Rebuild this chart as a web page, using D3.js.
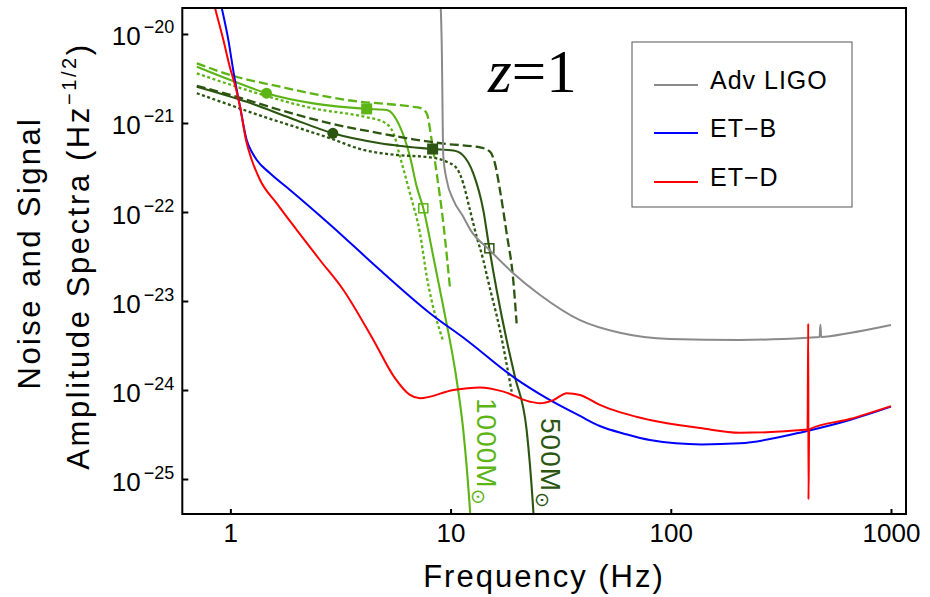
<!DOCTYPE html>
<html>
<head>
<meta charset="utf-8">
<script src="https://cdn.jsdelivr.net/npm/d3@7"></script>
<style>
  body { margin: 0; background: #fff; }
</style>
</head>
<body>
<svg id="chart" width="930" height="597"></svg>
<script>
// ---- Noise amplitude spectra: [frequency (Hz), amplitude (Hz^-1/2)] ----
const advLigo = [
  [9.0, 2.4e-20], [9.11, 8.6e-21], [9.27, 4.2e-22], [9.60, 2.3e-22], [10.3, 1.36e-22],
  [11.4, 8.9e-23], [12.3, 6.3e-23], [15.1, 3.7e-23], [19.2, 2.07e-23], [25.5, 1.17e-23],
  [38.7, 6.1e-24], [58.7, 4.4e-24], [99, 3.75e-24], [206, 3.65e-24], [419, 3.87e-24],
  [474, 3.94e-24], [478, 5.4e-24], [482, 3.95e-24], [650, 4.37e-24], [1000, 5.37e-24]
];
const etB = [
  [0.898, 2.4e-20], [0.914, 1.96e-20], [0.979, 8.6e-21], [1.039, 3.46e-21], [1.107, 1.51e-21],
  [1.187, 6.4e-22], [1.254, 4.7e-22], [1.318, 3.84e-22], [1.514, 2.72e-22], [1.866, 1.77e-22],
  [2.84, 7.2e-23], [4.78, 2.23e-23], [8.06, 7.3e-24], [11.8, 3.65e-24], [19.6, 1.36e-24],
  [27.3, 8.1e-25], [38.7, 5.11e-25], [47.6, 3.94e-25], [61.9, 3.21e-25], [80.4, 2.74e-25],
  [138, 2.45e-25], [206, 2.52e-25], [421, 3.49e-25], [650, 4.6e-25], [1000, 6.5e-25]
];
const etD = [
  [0.835, 2.4e-20], [0.852, 1.96e-20], [0.929, 8.6e-21], [0.997, 4.15e-21], [1.050, 2.67e-21],
  [1.107, 1.52e-21], [1.178, 6.4e-22], [1.251, 3.84e-22], [1.364, 2.29e-22], [1.624, 1.25e-22],
  [2.00, 6.3e-23], [2.55, 2.89e-23], [3.26, 1.33e-23], [4.46, 3.65e-24], [5.59, 1.36e-24],
  [6.54, 8.8e-25], [7.26, 8.07e-25], [10.3, 1.0e-24], [13.6, 1.07e-24], [17.4, 9.6e-25],
  [22.9, 7.4e-25], [25.5, 7.1e-25], [29.3, 7.7e-25], [33.7, 9.2e-25], [38.7, 8.8e-25],
  [47.6, 6.8e-25], [80.4, 4.6e-25], [136, 3.74e-25], [206, 3.31e-25], [418, 3.6e-25],
  [421, 5.6e-24], [422, 5.9e-26], [425, 3.61e-25], [650, 4.72e-25], [1000, 6.6e-25]
];

// ---- Signal spectra at z = 1 ----
const sig1000Solid = [
  [0.704, 4.29e-21], [1.0, 3.04e-21], [1.46, 2.16e-21], [2.38, 1.66e-21], [4.16, 1.44e-21],
  [5.13, 1.40e-21], [5.89, 9.1e-22], [6.54, 4.2e-22], [7.02, 1.92e-22], [7.52, 1.10e-22],
  [8.35, 3.15e-23], [9.27, 8.6e-24], [10.66, 1.29e-24], [11.42, 3.55e-25], [12.25, 4.5e-26],
  [12.5, 2.1e-26]
];
const sig1000Dashed = [
  [0.704, 4.69e-21], [1.0, 3.46e-21], [1.68, 2.56e-21], [3.38, 1.81e-21], [6.77, 1.52e-21],
  [7.26, 1.48e-21], [7.79, 1.28e-21], [8.21, 6.4e-22], [8.65, 2.72e-22], [9.27, 7.5e-23],
  [9.94, 1.39e-23]
];
const sig1000Dotted = [
  [0.704, 3.61e-21], [1.187, 2.35e-21], [2.38, 1.46e-21], [4.16, 1.16e-21], [4.95, 1.03e-21],
  [5.50, 7.7e-22], [5.89, 4.2e-22], [6.54, 1.62e-22], [7.26, 5.8e-23], [7.79, 1.91e-23],
  [9.27, 3.5e-24]
];
const sig500Solid = [
  [0.704, 2.56e-21], [1.187, 1.73e-21], [1.87, 1.14e-21], [2.92, 7.66e-22], [4.78, 5.92e-22],
  [8.29, 5.1e-22], [10.3, 4.9e-22], [11.42, 4.3e-22], [12.68, 2.72e-22], [14.08, 1.05e-22],
  [15.0, 3.91e-23], [16.19, 1.33e-23], [17.97, 3.65e-24], [19.6, 1.41e-24], [22.15, 3.56e-25],
  [23.74, 4.5e-26], [24.2, 2.06e-26]
];
const sig500Dashed = [
  [0.704, 2.61e-21], [1.0, 2.07e-21], [1.68, 1.40e-21], [2.84, 9.9e-22], [4.78, 7.66e-22],
  [6.77, 6.56e-22], [9.60, 5.81e-22], [13.6, 5.33e-22], [15.1, 4.76e-22], [15.9, 3.52e-22],
  [16.76, 1.77e-22], [17.97, 5.8e-23], [19.26, 1.72e-23], [19.95, 5.6e-24]
];
const sig500Dotted = [
  [0.704, 2.16e-21], [1.0, 1.59e-21], [1.41, 1.18e-21], [2.00, 8.95e-22], [2.84, 6.73e-22],
  [4.02, 4.98e-22], [5.69, 4.37e-22], [8.06, 4.12e-22], [9.60, 3.67e-22], [10.66, 3.10e-22],
  [11.42, 2.10e-22], [12.25, 1.05e-22], [13.14, 5.27e-23], [14.08, 2.89e-23], [14.78, 1.72e-23],
  [16.76, 4.72e-24], [18.94, 9.6e-25]
];

// Marked points on the solid signal curves: filled circle, filled square, open square
const marks1000 = [[1.46, 2.16e-21], [4.16, 1.44e-21], [7.52, 1.10e-22]];
const marks500 = [[2.92, 7.66e-22], [8.29, 5.1e-22], [15.0, 3.91e-23]];

const massLabels = ["1000", "500"];
const xTickValues = [1, 10, 100, 1000];
const yTickExponents = [-20, -21, -22, -23, -24, -25];
const legendLabels = ["Adv LIGO", "ET\u2212B", "ET\u2212D"];

// ---- Layout ----
const W = 930, H = 597;
const plotL = 182.3, plotR = 906, plotT = 8, plotB = 514;
const sans = "'Liberation Sans', Arial, Helvetica, sans-serif";
const serif = "'Liberation Serif', 'Times New Roman', serif";

const colGray = "#8a8a8a", colBlue = "#0000ff", colRed = "#ff0000";
const colLight = "#5cb415", colDark = "#2b5510";

const svg = d3.select("#chart");
svg.append("rect").attr("width", W).attr("height", H).attr("fill", "#fff");

const x = d3.scaleLog().domain([0.605, 1170]).range([plotL, plotR]);
const y = d3.scaleLog().domain([Math.pow(10, -25.393), Math.pow(10, -19.708)]).range([plotB, plotT]);

svg.append("defs").append("clipPath").attr("id", "plot-clip")
  .append("rect").attr("x", plotL).attr("y", plotT)
  .attr("width", plotR - plotL).attr("height", plotB - plotT);

const line = d3.line().x(d => x(d[0])).y(d => y(d[1])).curve(d3.curveMonotoneX);
const plot = svg.append("g").attr("clip-path", "url(#plot-clip)");

// Signal curves
const signals = [
  { data: sig1000Dashed, color: colLight, dash: "9,4" },
  { data: sig1000Dotted, color: colLight, dash: "3,2.5" },
  { data: sig1000Solid, color: colLight, dash: null },
  { data: sig500Dashed, color: colDark, dash: "9,4" },
  { data: sig500Dotted, color: colDark, dash: "3,2.5" },
  { data: sig500Solid, color: colDark, dash: null }
];
plot.selectAll("path.signal").data(signals).join("path")
  .attr("class", "signal")
  .attr("d", d => line(d.data))
  .attr("fill", "none")
  .attr("stroke", d => d.color)
  .attr("stroke-width", d => d.dash ? 2.3 : 2.1)
  .attr("stroke-dasharray", d => d.dash);

// Markers
function drawMarks(points, color) {
  const g = plot.append("g");
  const [c, fs, os] = points;
  g.append("circle").attr("cx", x(c[0])).attr("cy", y(c[1])).attr("r", 5.5).attr("fill", color);
  g.append("rect").attr("x", x(fs[0]) - 5.5).attr("y", y(fs[1]) - 5.5)
    .attr("width", 11).attr("height", 11).attr("fill", color);
  g.append("rect").attr("x", x(os[0]) - 4.5).attr("y", y(os[1]) - 4.5)
    .attr("width", 9).attr("height", 9).attr("fill", "none")
    .attr("stroke", color).attr("stroke-width", 1.5);
}
drawMarks(marks1000, colLight);
drawMarks(marks500, colDark);

// Noise curves
const noises = [
  { data: advLigo, color: colGray },
  { data: etB, color: colBlue },
  { data: etD, color: colRed }
];
plot.selectAll("path.noise").data(noises).join("path")
  .attr("class", "noise")
  .attr("d", d => line(d.data))
  .attr("fill", "none")
  .attr("stroke", d => d.color)
  .attr("stroke-width", 2)
  .attr("stroke-linejoin", "round");

// Axes
const xAxis = d3.axisBottom(x).tickValues(xTickValues).tickFormat(d3.format("d"))
  .tickSizeInner(-5).tickSizeOuter(0).tickPadding(10);
svg.append("g").attr("transform", `translate(0,${plotB})`).call(xAxis)
  .call(g => g.select(".domain").remove())
  .call(g => g.selectAll(".tick line").attr("stroke", "#000").attr("stroke-width", 2))
  .call(g => g.selectAll(".tick text").attr("font-size", 26).attr("font-family", sans).attr("fill", "#000"));

const yAxis = d3.axisLeft(y).tickValues(yTickExponents.map(e => Math.pow(10, e)))
  .tickSizeInner(-6).tickSizeOuter(0).tickPadding(8).tickFormat(() => "");
const yg = svg.append("g").attr("transform", `translate(${plotL},0)`).call(yAxis);
yg.select(".domain").remove();
yg.selectAll(".tick line").attr("stroke", "#000").attr("stroke-width", 2);
yg.selectAll(".tick text")
  .attr("font-family", sans).attr("fill", "#000").attr("dy", null).attr("y", 11)
  .each(function(d, i) {
    const t = d3.select(this);
    t.append("tspan").attr("font-size", 26).text("10");
    t.append("tspan").attr("font-size", 18).attr("dx", 3).attr("dy", -12)
      .text("\u2212" + Math.abs(yTickExponents[i]));
  });

// Frame
svg.append("rect").attr("x", plotL).attr("y", plotT)
  .attr("width", plotR - plotL).attr("height", plotB - plotT)
  .attr("fill", "none").attr("stroke", "#000").attr("stroke-width", 2);

// Axis titles
svg.append("text").attr("x", 544).attr("y", 587).attr("text-anchor", "middle")
  .attr("font-family", sans).attr("font-size", 31).attr("letter-spacing", 2)
  .text("Frequency (Hz)");

svg.append("text").attr("transform", "translate(40,253) rotate(-90)")
  .attr("text-anchor", "middle").attr("font-family", sans).attr("font-size", 31)
  .attr("letter-spacing", 2.4).text("Noise and Signal");

const yt2 = svg.append("text").attr("transform", "translate(89,256) rotate(-90)")
  .attr("text-anchor", "middle").attr("font-family", sans).attr("font-size", 31)
  .attr("letter-spacing", 2.6);
yt2.append("tspan").text("Amplitude Spectra (Hz");
yt2.append("tspan").attr("font-size", 20).attr("dy", -13).text("\u22121/2");
yt2.append("tspan").attr("dy", 13).text(")");

// Redshift label
const zt = svg.append("text").attr("x", 488).attr("y", 92)
  .attr("font-family", serif).attr("font-size", 61);
zt.append("tspan").attr("font-style", "italic").text("z");
zt.append("tspan").text("=1");

// Mass labels along the solid curves
const massPos = [
  { x: 477, y: 398, color: colLight },
  { x: 541, y: 418, color: colDark }
];
massLabels.forEach((lab, i) => {
  const p = massPos[i];
  const t = svg.append("text").attr("transform", `translate(${p.x},${p.y}) rotate(90)`)
    .attr("font-family", sans).attr("font-size", 28).attr("letter-spacing", 1).attr("fill", p.color);
  t.append("tspan").text(lab + "M");
  t.append("tspan").attr("font-size", 19).attr("dy", 5).attr("font-family", "'DejaVu Sans', sans-serif").text("\u2299");
});

// Legend
const leg = svg.append("g");
leg.append("rect").attr("x", 632).attr("y", 42).attr("width", 220).attr("height", 165)
  .attr("fill", "#fff").attr("stroke", "#555").attr("stroke-width", 1);
const legColors = [colGray, colBlue, colRed];
const rowY = [85, 133, 182];
legendLabels.forEach((lab, i) => {
  leg.append("line").attr("x1", 654).attr("x2", 698).attr("y1", rowY[i]).attr("y2", rowY[i])
    .attr("stroke", legColors[i]).attr("stroke-width", 2);
  leg.append("text").attr("x", 710).attr("y", rowY[i] + 4)
    .attr("font-family", sans).attr("font-size", 25).attr("letter-spacing", 1).text(lab);
});
</script>
</body>
</html>
